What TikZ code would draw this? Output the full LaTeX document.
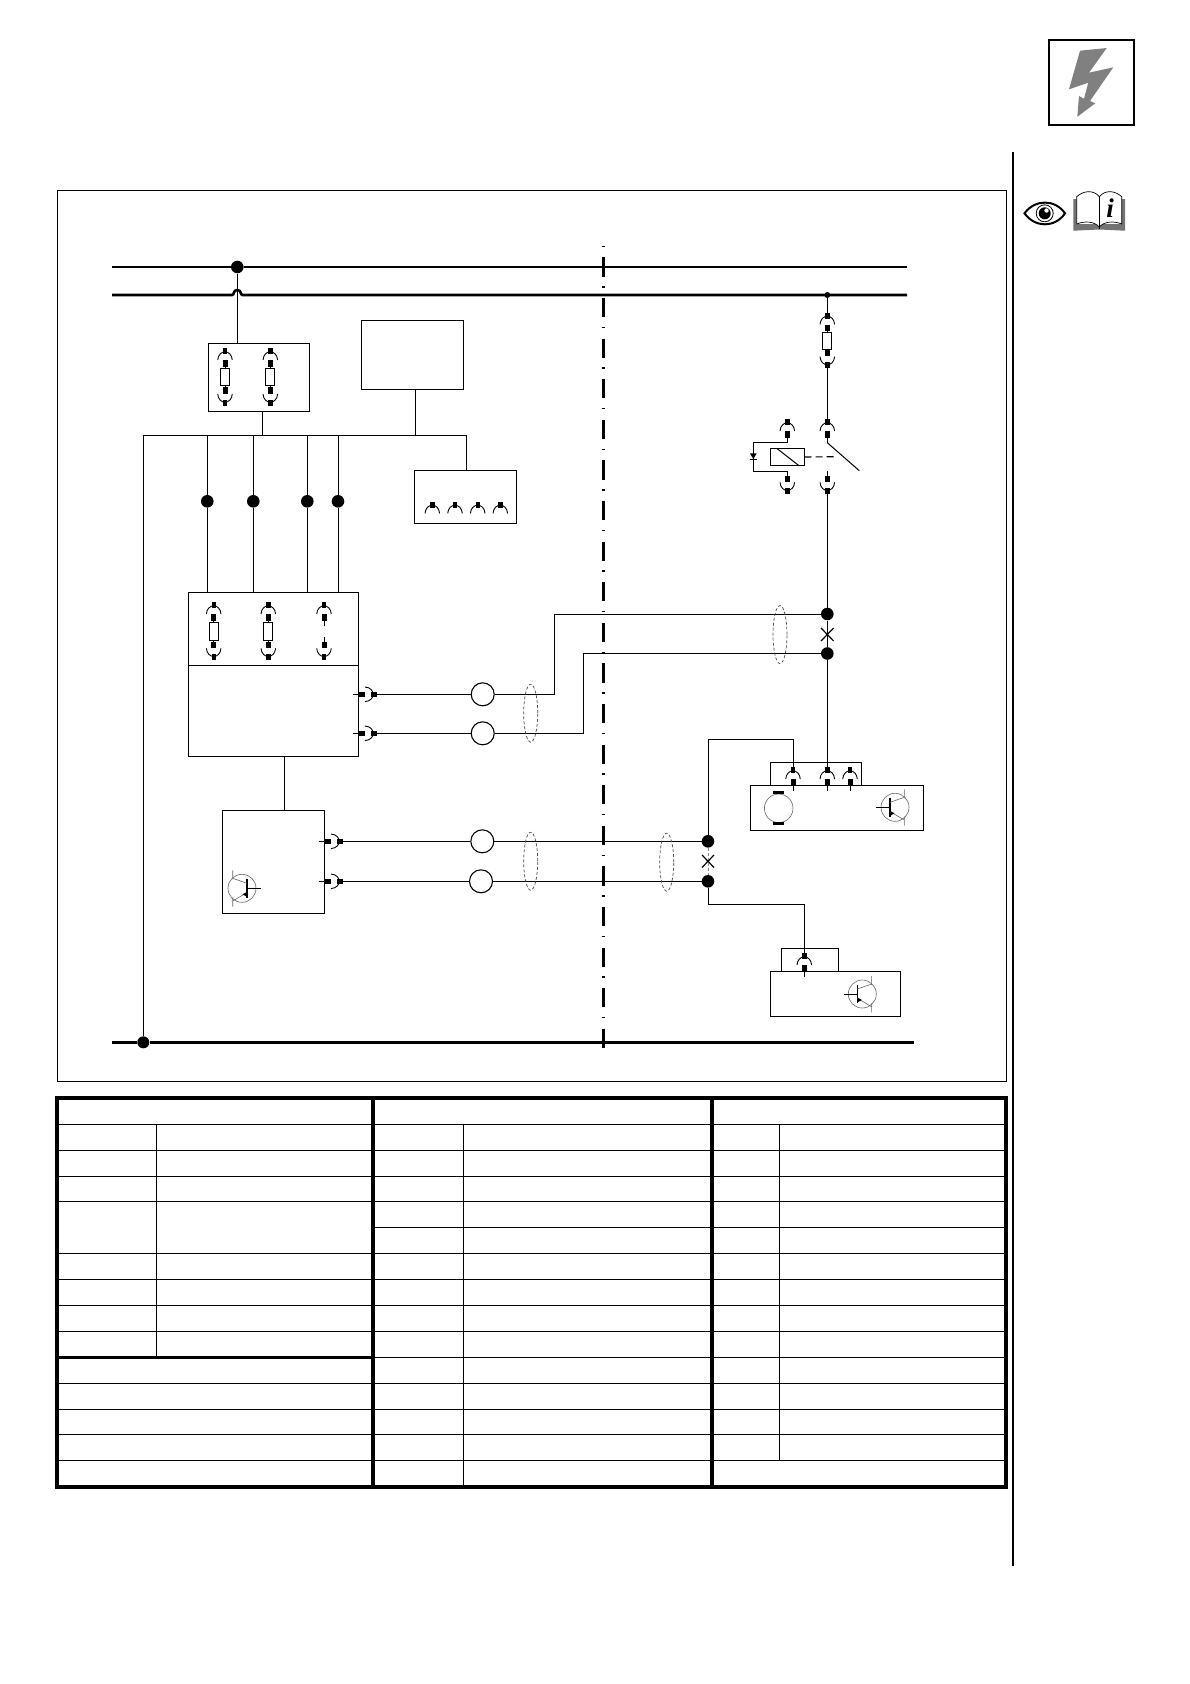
\documentclass[tikz,border=0pt]{standalone}
\usepackage{fontspec}
\setmainfont{Liberation Serif}
\usetikzlibrary{shapes.geometric}
\tikzset{
    wire/.style={line width=1pt},
    bus/.style={line width=2.6pt},
    blk/.style={draw, rectangle, line width=1pt, inner sep=0pt, outer sep=0pt, anchor=north west},
    joint/.style={circle, fill=black, inner sep=0pt, minimum size=12.6pt},
    tiny joint/.style={circle, fill=black, inner sep=0pt, minimum size=6pt},
    lamp/.style={draw, circle, fill=white, line width=1.1pt, inner sep=0pt, minimum size=23pt},
    fuse/.style={draw, rectangle, fill=white, line width=.7pt, inner sep=0pt, minimum width=9pt, minimum height=17.6pt},
    cable/.style={draw=black!70, ellipse, line width=.7pt, dash pattern=on 3pt off 2pt, inner sep=0pt, minimum width=14pt, minimum height=58pt},
    socket/.pic={
        \fill (-2.2,0) rectangle (2.2,6);
        \draw[line width=.9pt] (-7.3,11.7) .. controls (-6.5,.8) and (6.5,.8) .. (7.3,11.7);
    },
    contact/.pic={
        \pic[transform shape] {socket};
        \fill (-2.5,12) rectangle (2.5,18.3);
        \draw[line width=.9pt] (0,18.3) -- (0,23.5);
    },
    transistor/.pic={
        \draw[black!60, line width=.6pt] (0,0) circle[radius=14];
        \draw[line width=1pt] (-18.7,0) -- (-5,0);
        \draw[line width=1.2pt] (-5,-9) -- (-5,9.4);
        \draw[black!60, line width=.6pt] (-5,-5) -- (9.3,-10) (9.3,-18) -- (9.3,-9);
        \draw[black!60, line width=.6pt] (-5,4.3) -- (9.3,12.7) (9.3,9) -- (9.3,18.3);
        \fill (-5,3.5) -- (-.5,6) -- (-4,8) -- cycle;
    },
}
\begin{document}
\begin{tikzpicture}[x=1pt,y=-1pt]
    \useasboundingbox (0,0) rectangle (1190,1684);
    \fill[white] (0,0) rectangle (1190,1684);

    \draw[line width=2.2pt] (1049,40) rectangle (1134,125);
    \fill[black!50] (1080,50.7) -- (1106.7,48) -- (1089,72.7) -- (1113.3,67.3) -- (1090,101) -- (1095.3,103.3) -- (1077.3,116.7) -- (1079,96) -- (1084,98.7) -- (1088.3,82.7) -- (1069,89.3) -- cycle;
    \draw[line width=2pt] (1013.3,151.7) -- (1013.3,1566);

    \draw[line width=2pt] (1024.5,213.3) .. controls (1035,199) and (1055,199) .. (1065,213.3) .. controls (1055,228) and (1035,228) .. cycle;
    \draw[line width=.8pt] (1044.7,213.3) circle[radius=8.5];
    \fill (1044.7,213.3) circle[radius=6];
    \fill[white] (1046.5,210.5) circle[radius=2.2];
    \fill[black!55] (1073.3,199) -- (1073.3,230.7) -- (1099.3,229.5) -- (1125,230.7) -- (1125,199) -- (1121.7,199) -- (1121.7,224) -- (1076.7,224) -- (1076.7,199) -- cycle;
    \draw[line width=.7pt, fill=white] (1076.7,196.7) .. controls (1084,190) and (1094,190) .. (1099.3,196.7) .. controls (1104.6,190) and (1114.6,190) .. (1121.7,196.7) -- (1121.7,224) .. controls (1114.6,221) and (1104.6,221) .. (1099.3,227) .. controls (1094,221) and (1084,221) .. (1076.7,224) -- cycle;
    \draw[line width=.9pt] (1099.3,196.7) -- (1099.3,229);
    \node[inner sep=0pt, font=\fontsize{27}{27}\selectfont\bfseries\itshape] (bookletter) at (1110,208.5) {i};

    \draw[line width=.9pt] (57.3,190.3) rectangle (1006.5,1081);

    \coordinate (busAl) at (112,267);
    \coordinate (busAr) at (907,267);
    \coordinate (busBl) at (112,295);
    \coordinate (busBr) at (907,295);
    \coordinate (busCl) at (112,1042.3);
    \coordinate (busCr) at (914,1042.3);
    \node[joint] (feed) at (237.3,267) {};
    \node[tiny joint] (feedR) at (827.3,295) {};
    \node[joint, minimum size=12pt] (earth) at (143.3,1042.3) {};
    \draw[bus] (busAl) -- (feed) -- (busAr);
    \draw[bus] (busBl) -- (232,295) .. controls (234.5,295) and (233,290) .. (237.3,290) .. controls (241.6,290) and (240,295) .. (242.6,295) -- (busBr);
    \draw[bus, line width=3pt] (busCl) -- (earth) -- (busCr);
    \draw[line width=3pt, dash pattern=on 1.5pt off 10.3pt on 19.3pt off 9.5pt] (603,245.5) -- (603,1050);

    \node[blk, minimum width=101pt, minimum height=68pt] (fuseA) at (208.3,343.3) {};
    \node[blk, minimum width=102pt, minimum height=69pt] (supply) at (361.3,320.3) {};
    \node[blk, minimum width=102pt, minimum height=53pt] (outlet) at (414.3,470.3) {};
    \node[blk, minimum width=170pt, minimum height=73pt] (fuseB) at (188.3,592.3) {};
    \node[blk, minimum width=170pt, minimum height=90.7pt] (ctrl) at (188.3,665.3) {};
    \node[blk, minimum width=102pt, minimum height=103pt] (sensor) at (222.3,810.3) {};
    \node[blk, minimum width=91.4pt, minimum height=23pt] (plugM) at (770.3,762.3) {};
    \node[blk, minimum width=173pt, minimum height=45.4pt, line width=1.3pt] (motor) at (750.3,785.3) {};
    \node[blk, minimum width=57.4pt, minimum height=23pt] (plugS) at (781.3,948.3) {};
    \node[blk, minimum width=130.4pt, minimum height=45pt] (speed) at (770.3,971.3) {};

    \coordinate (tap) at (143.3,435.3);
    \coordinate (tapE) at (466.3,435.3);
    \draw[wire] (earth) -- (tap) -- (tapE) -- (outlet.north -| tapE);
    \draw[wire] (feed) -- (fuseA.north -| feed);
    \coordinate (tapA) at (262.3,435.3);
    \coordinate (tapB) at (415.3,435.3);
    \draw[wire] (fuseA.south -| tapA) -- (tapA);
    \draw[wire] (supply.south -| tapB) -- (tapB);
    \foreach \name/\x in {brA/207.3, brB/253.3, brC/307.3, brD/338}
        {\node[joint] (\name) at (\x,501.3) {};
         \draw[wire] (tap -| \name) -- (\name) -- (fuseB.north -| \name);}
    \coordinate (linkC) at (284.3,756);
    \draw[wire] (linkC) -- (sensor.north -| linkC);

    \foreach \x in {225,270.3}
        {\pic at (\x,348.3) {contact};
         \pic[rotate=180] at (\x,405.7) {contact};
         \node[fuse] (fuse\x) at (\x,377) {};}
    \foreach \x in {432.3,455,477.7,500.3}
        \pic at (\x,501.7) {socket};
    \foreach \x/\n in {213.7/a,268.3/b}
        {\pic at (\x,602.3) {contact};
         \pic[rotate=180] at (\x,660) {contact};
         \node[fuse, minimum height=18.4pt] (fuseB\n) at (\x,631.5) {};}
    \pic at (324,602.3) {contact};
    \pic[rotate=180] at (324,660) {contact};

    \coordinate (pinA) at (376.7,694.3);
    \coordinate (pinB) at (376.7,733.3);
    \coordinate (pinC) at (342.7,841.3);
    \coordinate (pinD) at (342.7,881.3);
    \foreach \c in {pinA,pinB,pinC,pinD}
        \pic[rotate=-90] at (\c) {contact};
    \node[lamp] (lampA) at (482.7,694.3) {};
    \node[lamp] (lampB) at (482.7,733.3) {};
    \node[lamp] (lampC) at (482.3,841.3) {};
    \node[lamp] (lampD) at (481,881.3) {};

    \node[joint] (dotA) at (827.3,614) {};
    \node[joint] (dotB) at (827.3,653.5) {};
    \node[joint] (dotC) at (708,841.3) {};
    \node[joint] (dotD) at (708,881.3) {};
    \coordinate (kneeA) at (554.3,694.3);
    \coordinate (kneeB) at (583.3,733.3);
    \draw[wire] (pinA) -- (lampA) -- (kneeA) |- (dotA);
    \draw[wire] (pinB) -- (lampB) -- (kneeB) |- (dotB);
    \draw[wire] (pinC) -- (lampC) -- (dotC);
    \draw[wire] (pinD) -- (lampD) -- (dotD);
    \node[cable] (shieldA) at (530.7,713.2) {};
    \node[cable] (shieldB) at (530.7,861.2) {};
    \node[cable] (shieldC) at (780,634.6) {};
    \node[cable] (shieldD) at (666.7,862.2) {};
    \draw[black!45, line width=.8pt, dash pattern=on 3pt off 2pt] (dotA) -- (dotB);
    \draw[black!45, line width=.8pt, dash pattern=on 3pt off 2pt] (dotC) -- (dotD);
    \draw[line width=1.2pt] (821,628) -- (833.6,641) (821,641) -- (833.6,628);
    \draw[line width=1.2pt] (702,855) -- (714,867.5) (702,867.5) -- (714,855);

    \coordinate (fuseCtop) at (827.3,312.7);
    \coordinate (fuseCbot) at (827.3,368.3);
    \coordinate (swTop) at (827.3,419.3);
    \coordinate (swBot) at (827.3,494);
    \coordinate (swEnd) at (859.3,470.7);
    \coordinate (swPivot) at (827.3,442.7);
    \coordinate (coilTop) at (787.3,419.3);
    \coordinate (coilBot) at (787.3,494);
    \coordinate (plugA) at (793,767.3);
    \coordinate (plugB) at (827.3,767.3);
    \coordinate (plugC) at (850,767.3);
    \coordinate (plugD) at (804.3,953.3);
    \draw[wire] (feedR) -- (fuseCtop);
    \draw[wire] (fuseCbot) -- (swTop);
    \draw[wire] (swBot) -- (dotA) -- (dotB) -- (plugB);
    \draw[wire] (swPivot) -- (swEnd);
    \pic at (fuseCtop) {contact};
    \pic[rotate=180] at (fuseCbot) {contact};
    \node[fuse] (fuseC) at (827.3,341) {};
    \pic at (swTop) {contact};
    \pic[rotate=180] at (swBot) {contact};
    \pic at (coilTop) {contact};
    \pic[rotate=180] at (coilBot) {contact};

    \node[blk, fill=white, minimum width=34.4pt, minimum height=17.4pt] (coil) at (770.3,448.3) {};
    \draw[wire] (coil.north west) ++(6.4,0) -- ++(22.3,17.4);
    \coordinate (loopA) at (753.3,442.3);
    \coordinate (loopB) at (753.3,471.3);
    \draw[wire] (coilTop |- loopA) -- (loopA) -- (loopB) -- (coilBot |- loopB);
    \fill (749.9,453.3) -- (756.7,453.3) -- (753.3,459) -- cycle;
    \draw[wire] (749.9,459.3) -- (756.7,459.3);
    \draw[line width=1.1pt, dash pattern=on 7pt off 4pt] (coil.east) -- (836.7,456.7);

    \draw[wire] (dotC) |- (739.7,739.7 -| plugA) -- (plugA);
    \draw[wire] (dotD) |- (904.3,904.3 -| plugD) -- (plugD);
    \foreach \c in {plugA,plugB,plugC,plugD}
        \pic at (\c) {contact};

    \draw[black!60, line width=.6pt] (778.7,808.3) circle[radius=14.3];
    \fill (773,791.3) rectangle (784.4,794.3);
    \fill (773,821.7) rectangle (784.4,824.7);
    \pic at (895,807.3) {transistor};
    \pic at (862.3,994) {transistor};
    \pic[xscale=-1] at (242,888.3) {transistor};

    \foreach \y in {1124.3,1150.3,1176.3,1201.3,1227.3,1253.3,1279.3,1305.3,1331.3,1357.3,1383.3,1409.3,1434.3,1460.3}
        \draw[wire] (373,\y) -- (1006,\y);
    \foreach \y in {1124.3,1150.3,1176.3,1201.3,1253.3,1279.3,1305.3,1331.3,1383.3,1409.3,1434.3,1460.3}
        \draw[wire] (57,\y) -- (373,\y);
    \draw[wire] (156.7,1124.3) -- (156.7,1357.3);
    \draw[wire] (463.3,1124.3) -- (463.3,1487);
    \draw[wire] (779.7,1124.3) -- (779.7,1460.3);
    \draw[line width=3pt] (57,1357.3) -- (373,1357.3);
    \draw[line width=3.2pt] (373,1098) -- (373,1487);
    \draw[line width=3.2pt] (712,1098) -- (712,1487);
    \draw[line width=3.8pt] (57,1098) rectangle (1006,1487);
\end{tikzpicture}
\end{document}
